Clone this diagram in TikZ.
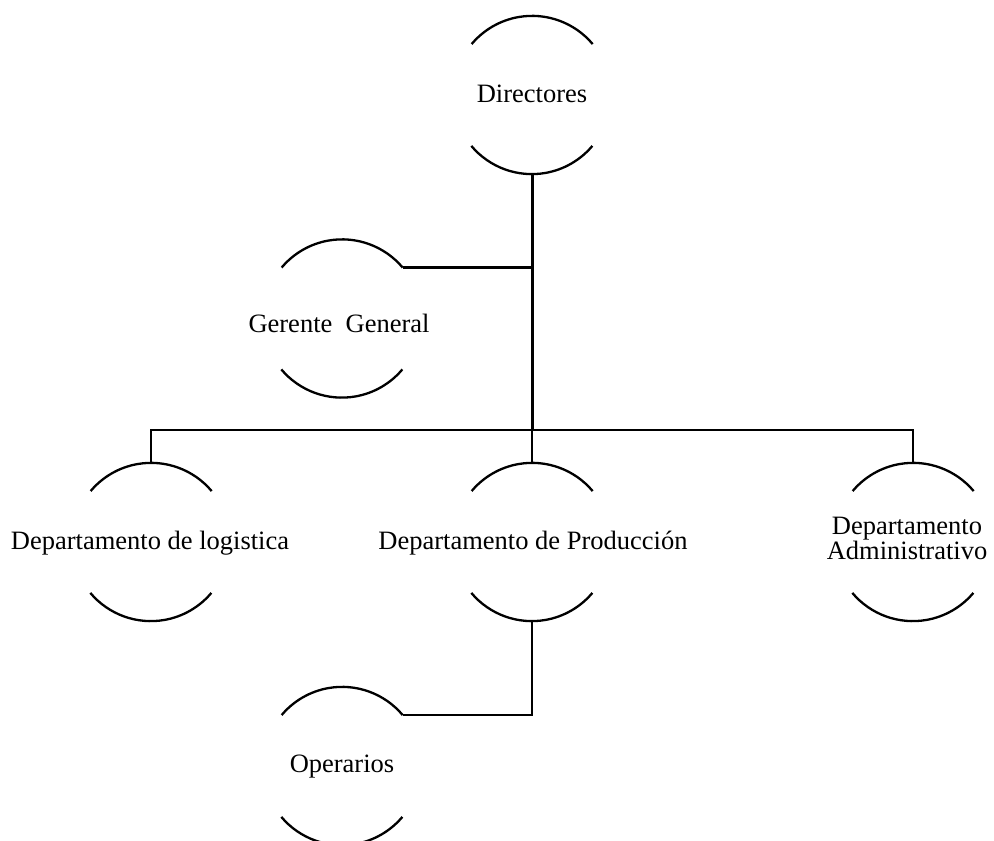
\documentclass[tikz,border=0pt]{standalone}
\usepackage{fontspec}
\setmainfont{Liberation Serif}
\begin{document}
\begin{tikzpicture}[x=1pt,y=1pt,
  ring/.style={circle,draw=none,minimum size=158pt,inner sep=0pt},
  lbl/.style={font=\fontsize{26.5}{17}\selectfont,align=center,inner sep=0pt},
  arcline/.style={line width=2.3pt},
  conn/.style={line width=2.3pt},
  trunk/.style={line width=3pt}]
\useasboundingbox (0,0) rectangle (994,841);
\newcommand\ringarcs[1]{%
  \draw[arcline] (#1.40) arc (40:140:79);
  \draw[arcline] (#1.220) arc (220:320:79);}
% rings
\node[ring] (dir) at (532,746) {};
\node[ring] (ger) at (342,522.5) {};
\node[ring] (log) at (151,299) {};
\node[ring] (pro) at (532,299) {};
\node[ring] (adm) at (913,299) {};
\node[ring] (ope) at (342,75) {};
\ringarcs{dir}\ringarcs{ger}\ringarcs{log}\ringarcs{pro}\ringarcs{adm}\ringarcs{ope}
% labels
\node[lbl] (tdir) at (532,747) {Directores};
\node[lbl] (tger) at (339,518) {Gerente\ \ General};
\node[lbl] (tlog) at (150,298) {Departamento de logistica};
\node[lbl] (tpro) at (533,298) {Departamento de Producción};
\node[lbl] (tadm) at (907,303) {Departamento\\Administrativo};
\node[lbl] (tope) at (342,74) {Operarios};
% connectors
\coordinate (bus) at (532,411);
\draw[trunk] (dir.south) -- (bus);
\draw[conn] (ger.40) -- (ger.40 -| dir.south);
\draw[conn] (log.north) -- (log.north |- bus) -- (adm.north |- bus) -- (adm.north);
\draw[conn] (pro.north) -- (pro.north |- bus);
\draw[conn] (pro.south) -- (pro.south |- ope.40) -- (ope.40);
\end{tikzpicture}
\end{document}
